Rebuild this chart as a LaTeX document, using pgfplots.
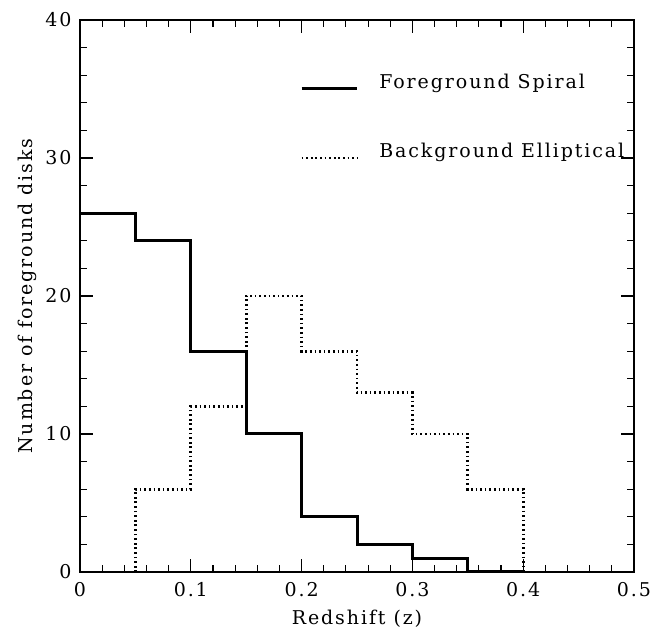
\documentclass[border=0pt]{standalone}
\usepackage{fontspec}
\setmainfont[LetterSpace=10]{DejaVu Serif}
\usepackage{pgfplots}
\pgfplotsset{compat=1.18}
\begin{document}
\begin{tikzpicture}
\begin{axis}[
  scale only axis, width=554bp, height=552bp,
  xmin=0, xmax=0.5, ymin=0, ymax=40,
  xtick={0,0.1,0.2,0.3,0.4,0.5}, ytick={0,10,20,30,40},
  minor x tick num=4, minor y tick num=4,
  tick align=inside, major tick length=13bp, minor tick length=7bp,
  axis line style={line width=1.4bp},
  every tick/.style={line width=1.1bp, black},
  font=\fontsize{19bp}{23bp}\selectfont,
  /pgf/number format/assume math mode=true,
  xticklabel style={/pgf/number format/fixed, /pgf/number format/precision=1,
    anchor=base, yshift=-25bp},
  yticklabel style={anchor=east, xshift=-5bp},
  xlabel={Redshift (z)}, ylabel={Number of foreground disks},
  xlabel style={at={(axis description cs:0.5,-0.096)}, anchor=base},
  ylabel style={at={(axis description cs:-0.0866,0.5)}, anchor=base},
  clip=false,
]
\addplot[const plot, line width=3bp] coordinates {
  (0,26) (0.05,24) (0.1,16) (0.15,10) (0.2,4) (0.25,2) (0.3,1) (0.35,0) (0.4,0)};
\addplot[const plot, line width=2.7bp, dash pattern=on 1.7bp off 2.9bp] coordinates {
  (0,0) (0.05,6) (0.1,12) (0.15,20) (0.2,16) (0.25,13) (0.3,10) (0.35,6) (0.4,0) (0.5,0)};
% legend
\addplot[line width=3bp] coordinates {(0.2,35) (0.25,35)};
\addplot[line width=2.7bp, dash pattern=on 1.7bp off 2.9bp] coordinates {(0.2,30) (0.25,30)};
\node[anchor=base west, inner sep=0pt] at (axis cs:0.27,35) {Foreground Spiral};
\node[anchor=base west, inner sep=0pt] at (axis cs:0.27,30) {Background Elliptical};
\end{axis}
\pgfresetboundingbox
\path ([xshift=-80bp,yshift=-59bp]current axis.south west) rectangle ([xshift=17bp,yshift=20bp]current axis.north east);
\end{tikzpicture}
\end{document}
